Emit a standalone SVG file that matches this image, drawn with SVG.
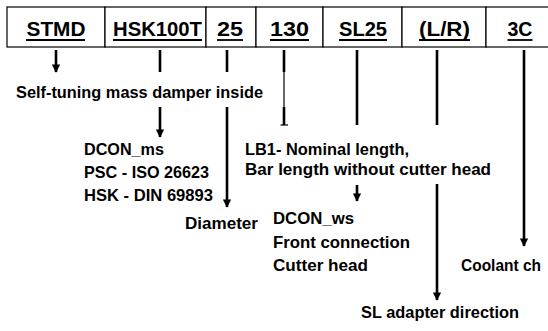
<svg xmlns="http://www.w3.org/2000/svg" width="548" height="331" viewBox="0 0 548 331">
<style>
.hd{font-family:"Liberation Sans",Arial,sans-serif;font-weight:bold;font-size:21px;fill:#000;text-anchor:middle}
.lb{font-family:"Liberation Sans",Arial,sans-serif;font-weight:bold;font-size:17px;fill:#000}
.cell{fill:#fff;stroke:#000;stroke-width:1.2}
.ul{stroke:#000;stroke-width:1.8}
.ln{stroke:#000;stroke-width:2.6;fill:none}
.thin{stroke:#000;stroke-width:1.2;fill:none}
</style>
<defs>
<marker id="ah" viewBox="0 0 10 10" refX="9" refY="5" markerWidth="3.6" markerHeight="3.2" orient="auto" markerUnits="strokeWidth">
<path d="M0,0 L10,5 L0,10 Z" fill="#000"/>
</marker>
</defs>
<rect width="548" height="331" fill="#fff"/>
<g id="table">
<g id="c-stmd"><rect class="cell" x="7" y="7" width="98" height="40"/><text class="hd" x="56" y="35.5" textLength="59" lengthAdjust="spacingAndGlyphs">STMD</text><line class="ul" x1="26" y1="40" x2="85" y2="40"/></g>
<g id="c-hsk"><rect class="cell" x="105" y="7" width="101" height="40"/><text class="hd" x="157.5" y="35.5" textLength="89" lengthAdjust="spacingAndGlyphs">HSK100T</text><line class="ul" x1="113" y1="40" x2="202" y2="40"/></g>
<g id="c-25"><rect class="cell" x="206" y="7" width="50" height="40"/><text class="hd" x="230" y="35.5" textLength="26" lengthAdjust="spacingAndGlyphs">25</text><line class="ul" x1="217" y1="40" x2="243" y2="40"/></g>
<g id="c-130"><rect class="cell" x="256" y="7" width="67" height="40"/><text class="hd" x="289.5" y="35.5" textLength="39" lengthAdjust="spacingAndGlyphs">130</text><line class="ul" x1="270" y1="40" x2="309" y2="40"/></g>
<g id="c-sl25"><rect class="cell" x="323" y="7" width="79" height="40"/><text class="hd" x="363" y="35.5" textLength="48" lengthAdjust="spacingAndGlyphs">SL25</text><line class="ul" x1="339" y1="40" x2="387" y2="40"/></g>
<g id="c-lr"><rect class="cell" x="402" y="7" width="84" height="40"/><text class="hd" x="444.5" y="35.5" textLength="51" lengthAdjust="spacingAndGlyphs">(L/R)</text><line class="ul" x1="419" y1="40" x2="470" y2="40"/></g>
<g id="c-3c"><rect class="cell" x="486" y="7" width="80" height="40"/><text class="hd" x="520" y="35.5" textLength="25" lengthAdjust="spacingAndGlyphs">3C</text><line class="ul" x1="507.5" y1="40" x2="532.5" y2="40"/></g>
</g>
<g id="connectors">
<line class="ln" x1="56" y1="50" x2="56" y2="72" marker-end="url(#ah)"/>
<line class="ln" x1="160" y1="50" x2="160" y2="72"/>
<line class="ln" x1="160" y1="107" x2="160" y2="137" marker-end="url(#ah)"/>
<line class="ln" x1="227" y1="50" x2="227" y2="72"/>
<line class="ln" x1="227" y1="107" x2="227" y2="207" marker-end="url(#ah)"/>
<line class="ln" x1="284" y1="50" x2="284" y2="72"/>
<line class="thin" x1="284" y1="72" x2="284" y2="107"/>
<line class="ln" x1="284" y1="107" x2="284" y2="125"/>
<line class="thin" x1="280.5" y1="125" x2="288" y2="125"/>
<line class="ln" x1="357" y1="50" x2="357" y2="125"/>
<line class="ln" x1="357" y1="185" x2="357" y2="201" marker-end="url(#ah)"/>
<line class="ln" x1="437" y1="50" x2="437" y2="125"/>
<line class="ln" x1="437" y1="184" x2="437" y2="300" marker-end="url(#ah)"/>
<line class="ln" x1="524" y1="50" x2="524" y2="246" marker-end="url(#ah)"/>
</g>
<g id="n-stmd"><text class="lb" x="16" y="98" textLength="247" lengthAdjust="spacingAndGlyphs">Self-tuning mass damper inside</text></g>
<g id="n-hsk">
<text class="lb" x="84" y="155" textLength="80" lengthAdjust="spacingAndGlyphs">DCON_ms</text>
<text class="lb" x="84" y="178" textLength="125" lengthAdjust="spacingAndGlyphs">PSC - ISO 26623</text>
<text class="lb" x="84" y="201" textLength="129" lengthAdjust="spacingAndGlyphs">HSK - DIN 69893</text>
</g>
<g id="n-25"><text class="lb" x="185" y="229" textLength="73" lengthAdjust="spacingAndGlyphs">Diameter</text></g>
<g id="n-130">
<text class="lb" x="245" y="155" textLength="164" lengthAdjust="spacingAndGlyphs">LB1- Nominal length,</text>
<text class="lb" x="245" y="175" textLength="246" lengthAdjust="spacingAndGlyphs">Bar length without cutter head</text>
</g>
<g id="n-sl25">
<text class="lb" x="273" y="224" textLength="81" lengthAdjust="spacingAndGlyphs">DCON_ws</text>
<text class="lb" x="273" y="248" textLength="137" lengthAdjust="spacingAndGlyphs">Front connection</text>
<text class="lb" x="273" y="271" textLength="95" lengthAdjust="spacingAndGlyphs">Cutter head</text>
</g>
<g id="n-lr"><text class="lb" x="361" y="318" textLength="158" lengthAdjust="spacingAndGlyphs">SL adapter direction</text></g>
<g id="n-3c"><text class="lb" x="461" y="271" textLength="80" lengthAdjust="spacingAndGlyphs">Coolant ch</text></g>
</svg>
